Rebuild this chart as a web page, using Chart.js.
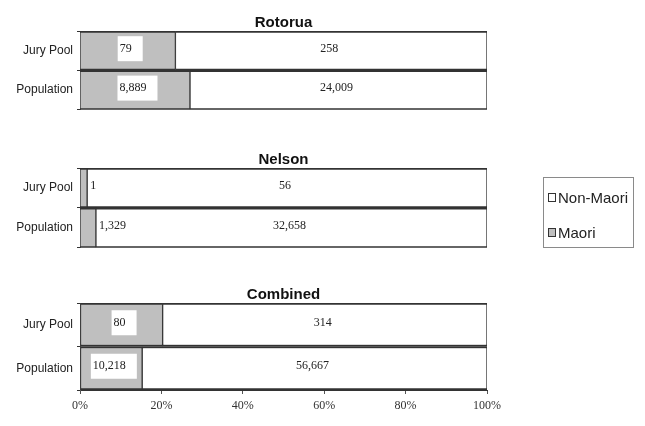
<!DOCTYPE html>
<html>
<head>
<meta charset="utf-8">
<script src="https://cdn.jsdelivr.net/npm/chart.js@4/dist/chart.umd.min.js"></script>
<style>
  html, body { margin: 0; padding: 0; background: #fff; }
  body { width: 645px; height: 426px; position: relative; overflow: hidden; }
  .panel { position: absolute; left: 0; width: 645px; }
  .legend {
    position: absolute; left: 543px; top: 177px; width: 89px; height: 69px;
    border: 1px solid #8a8a8a; font-family: "Liberation Sans", Arial, sans-serif;
    font-size: 15px; color: #222; box-sizing: content-box;
  }
  .legend .row { position: absolute; left: 4px; display: flex; align-items: center; white-space: nowrap; }
  .legend .sw { width: 6px; height: 7px; border: 1px solid #333; margin-right: 2px; }
</style>
</head>
<body>
<div class="panel" style="top:0;height:121px"><canvas id="c1"></canvas></div>
<div class="panel" style="top:140px;height:119px"><canvas id="c2"></canvas></div>
<div class="panel" style="top:270px;height:156px"><canvas id="c3"></canvas></div>
<div class="legend" id="legend"></div>
<script>
// Bar categories within each panel
const categories = ['Jury Pool', 'Population'];
// Series names and fills
const seriesNames = ['Maori', 'Non-Maori'];
const seriesColors = ['#bfbfbf', '#ffffff'];

// Head counts per panel: [Jury Pool, Population]
const rotoruaMaori = [79, 8889];
const rotoruaNonMaori = [258, 24009];
const nelsonMaori = [1, 1329];
const nelsonNonMaori = [56, 32658];
const combinedMaori = [80, 10218];
const combinedNonMaori = [314, 56667];

const xTicks = [0, 20, 40, 60, 80, 100];

const panelTitles = ['Rotorua', 'Nelson', 'Combined'];

function pct(part, a, b) {
  return part.map((v, i) => v / (a[i] + b[i]) * 100);
}

// Count labels printed on each segment; Maori labels sit on a white box
const countLabels = {
  id: 'countLabels',
  afterDatasetsDraw(chart) {
    const ctx = chart.ctx;
    ctx.save();
    ctx.font = '12px "Liberation Serif", "Times New Roman", serif';
    ctx.textBaseline = 'middle';
    chart.data.datasets.forEach((ds, di) => {
      const meta = chart.getDatasetMeta(di);
      meta.data.forEach((el, i) => {
        const text = ds.counts[i].toLocaleString('en-US');
        const left = Math.min(el.x, el.base), right = Math.max(el.x, el.base);
        const w = ctx.measureText(text).width;
        const cy = el.y - 2;
        let tx;
        if (w + 8 > right - left) {
          tx = right + 3;
        } else {
          tx = (left + right) / 2 - w / 2 - 2;
          if (di === 0) {
            ctx.fillStyle = '#ffffff';
            ctx.fillRect(tx - 2, cy - 12.5, w + 13, 25);
          }
        }
        ctx.fillStyle = '#222';
        ctx.textAlign = 'left';
        ctx.fillText(text, tx, cy);
      });
    });
    ctx.restore();
  }
};

// Panel heading centred over the plot area
const panelTitle = {
  id: 'panelTitle',
  afterDraw(chart, args, opts) {
    const ctx = chart.ctx, a = chart.chartArea;
    ctx.save();
    ctx.font = 'bold 15px "Liberation Sans", Arial, sans-serif';
    ctx.fillStyle = '#111';
    ctx.textAlign = 'center';
    ctx.textBaseline = 'alphabetic';
    ctx.fillText(opts.text, (a.left + a.right) / 2, a.top - 4.5);
    ctx.restore();
  }
};

function makePanel(id, title, maori, nonMaori, showX, padTop, padBottom) {
  const border = { top: 2, bottom: 2, left: 1, right: 1 };
  return new Chart(document.getElementById(id), {
    type: 'bar',
    data: {
      labels: categories,
      datasets: [
        { label: seriesNames[0], data: pct(maori, maori, nonMaori), counts: maori,
          backgroundColor: seriesColors[0], borderColor: '#333', borderWidth: border, borderSkipped: false,
          barPercentage: 1, categoryPercentage: 1 },
        { label: seriesNames[1], data: pct(nonMaori, maori, nonMaori), counts: nonMaori,
          backgroundColor: seriesColors[1], borderColor: '#333', borderWidth: border, borderSkipped: false,
          barPercentage: 1, categoryPercentage: 1 }
      ]
    },
    options: {
      indexAxis: 'y',
      responsive: true,
      maintainAspectRatio: false,
      animation: false,
      layout: { padding: { top: padTop, bottom: padBottom, left: 0, right: 158 } },
      plugins: {
        legend: { display: false },
        tooltip: { enabled: false },
        panelTitle: { text: title }
      },
      scales: {
        x: {
          stacked: true, min: 0, max: 100,
          display: showX,
          afterBuildTicks(scale) { scale.ticks = xTicks.map(v => ({ value: v })); },
          afterFit(scale) { scale.height = showX ? 26 : 0; },
          grid: { drawOnChartArea: false, drawTicks: true, tickLength: 4, color: '#555' },
          border: { display: true, color: '#333' },
          ticks: {
            padding: 5, color: '#333', maxRotation: 0,
            font: { family: '"Liberation Serif", "Times New Roman", serif', size: 12 },
            callback: v => v + '%'
          }
        },
        y: {
          stacked: true,
          afterFit(scale) { scale.width = 80; },
          grid: { display: true, drawOnChartArea: false, drawTicks: true, tickLength: 3, offset: true, color: '#333' },
          border: { display: true, color: '#555' },
          ticks: {
            padding: 4, color: '#222',
            font: { family: '"Liberation Sans", Arial, sans-serif', size: 12 }
          }
        }
      }
    },
    plugins: [countLabels, panelTitle]
  });
}

makePanel('c1', panelTitles[0], rotoruaMaori, rotoruaNonMaori, false, 31, 3);
makePanel('c2', panelTitles[1], nelsonMaori, nelsonNonMaori, false, 28, 3);
makePanel('c3', panelTitles[2], combinedMaori, combinedNonMaori, true, 33, 10);

// Legend: Non-Maori listed above Maori
const legend = document.getElementById('legend');
[[1, 11], [0, 46]].forEach(([si, top]) => {
  const row = document.createElement('div');
  row.className = 'row';
  row.style.top = top + 'px';
  const sw = document.createElement('span');
  sw.className = 'sw';
  sw.style.background = seriesColors[si];
  const t = document.createElement('span');
  t.textContent = seriesNames[si];
  row.appendChild(sw);
  row.appendChild(t);
  legend.appendChild(row);
});
</script>
</body>
</html>
